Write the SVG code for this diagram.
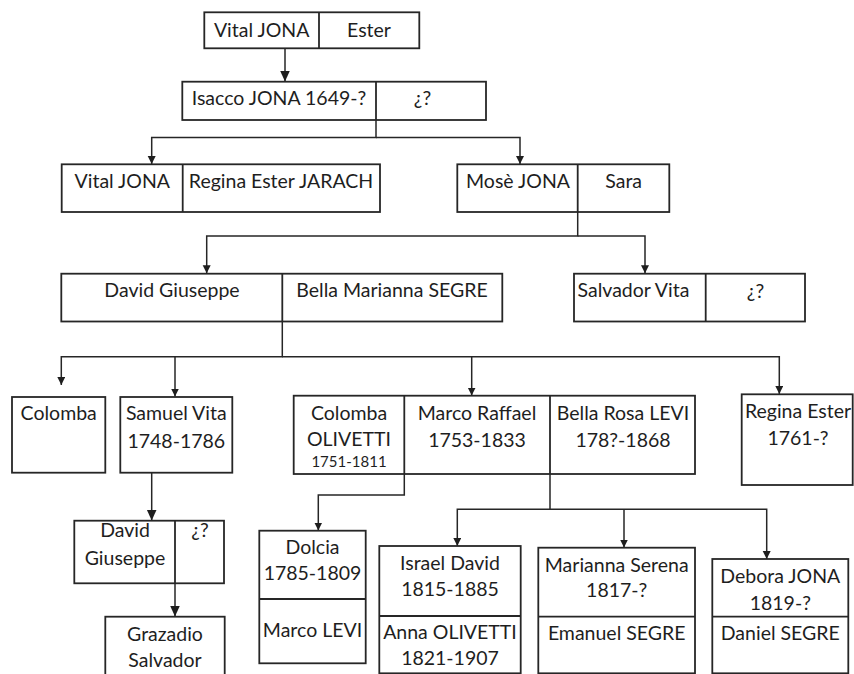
<svg xmlns="http://www.w3.org/2000/svg" width="854" height="674" viewBox="0 0 854 674">
  <style>
    .box { fill: #ffffff; stroke: #262626; stroke-width: 1.8; }
    .div { stroke: #262626; stroke-width: 1.8; fill: none; }
    .link { stroke: #262626; stroke-width: 1.5; fill: none; }
    text { font-family: Lato, "Liberation Sans", sans-serif; font-size: 19.5px; fill: #1e1e1e; text-anchor: middle; }
    .small { font-size: 15px; }
  </style>
  <defs>
    <marker id="arrow" markerUnits="userSpaceOnUse" markerWidth="12" markerHeight="14" refX="11" refY="5" orient="auto">
      <path d="M0,0 L11,5 L0,10 Z" fill="#1e1e1e"/>
    </marker>
    <marker id="arrowS" markerUnits="userSpaceOnUse" markerWidth="10" markerHeight="10" refX="8" refY="4" orient="auto">
      <path d="M0,0 L8,4 L0,8 Z" fill="#1e1e1e"/>
    </marker>
  </defs>

  <!-- connectors -->
  <g id="connectors">
    <path class="link" d="M285,48.3 V81.5" marker-end="url(#arrow)"/>
    <path class="link" d="M376,120 V137.5 H151.7 V164" marker-end="url(#arrowS)"/>
    <path class="link" d="M376,137.5 H520 V164" marker-end="url(#arrowS)"/>
    <path class="link" d="M577.7,212 V236 H206.7 V273.3" marker-end="url(#arrowS)"/>
    <path class="link" d="M577.7,236 H645 V273.3" marker-end="url(#arrowS)"/>
    <path class="link" d="M282.3,321.5 V356.7 H61.3 V385" marker-end="url(#arrowS)"/>
    <path class="link" d="M175,356.7 V396.5" marker-end="url(#arrowS)"/>
    <path class="link" d="M282.3,356.7 H779.3 V394" marker-end="url(#arrowS)"/>
    <path class="link" d="M471.7,356.7 V395.5" marker-end="url(#arrowS)"/>
    <path class="link" d="M151.7,472.7 V520.5" marker-end="url(#arrow)"/>
    <path class="link" d="M175,583.3 V616.5" marker-end="url(#arrow)"/>
    <path class="link" d="M404.3,474 V495 H318.3 V530.5" marker-end="url(#arrowS)"/>
    <path class="link" d="M550,474 V509.3 H457.3 V546" marker-end="url(#arrowS)"/>
    <path class="link" d="M550,509.3 H766.7 V559" marker-end="url(#arrowS)"/>
    <path class="link" d="M624,509.3 V547.5" marker-end="url(#arrowS)"/>
  </g>

  <!-- generation 1 -->
  <g id="vital-ester">
    <rect class="box" x="204.3" y="12.3" width="215" height="36"/>
    <line class="div" x1="319" y1="12.3" x2="319" y2="48.3"/>
    <text x="261.7" y="37">Vital JONA</text>
    <text x="369" y="37">Ester</text>
  </g>

  <!-- generation 2 -->
  <g id="isacco">
    <rect class="box" x="182.3" y="81.7" width="303.7" height="38.3"/>
    <line class="div" x1="376" y1="81.7" x2="376" y2="120"/>
    <text x="279" y="104.5">Isacco JONA 1649-?</text>
    <text x="422.5" y="104.5">¿?</text>
  </g>

  <!-- generation 3 -->
  <g id="vital-regina">
    <rect class="box" x="61.7" y="164.3" width="318.3" height="47.7"/>
    <line class="div" x1="182.7" y1="164.3" x2="182.7" y2="212"/>
    <text x="122.3" y="188.3">Vital JONA</text>
    <text x="281" y="188.3">Regina Ester JARACH</text>
  </g>
  <g id="mose-sara">
    <rect class="box" x="457.3" y="164.3" width="212" height="47.7"/>
    <line class="div" x1="577.7" y1="164.3" x2="577.7" y2="212"/>
    <text x="518" y="188">Mosè JONA</text>
    <text x="623.7" y="188">Sara</text>
  </g>

  <!-- generation 4 -->
  <g id="david-bella">
    <rect class="box" x="61.3" y="273.7" width="441" height="47.8"/>
    <line class="div" x1="282.3" y1="273.7" x2="282.3" y2="321.5"/>
    <text x="172" y="296.7">David Giuseppe</text>
    <text x="392" y="296.7">Bella Marianna SEGRE</text>
  </g>
  <g id="salvador">
    <rect class="box" x="574" y="273.7" width="231" height="47.8"/>
    <line class="div" x1="705.7" y1="273.7" x2="705.7" y2="321.5"/>
    <text x="633.5" y="297">Salvador Vita</text>
    <text x="755.5" y="297.5">¿?</text>
  </g>

  <!-- generation 5 -->
  <g id="colomba">
    <rect class="box" x="12" y="397" width="93.3" height="75.7"/>
    <text x="58.7" y="420">Colomba</text>
  </g>
  <g id="samuel">
    <rect class="box" x="120.3" y="397" width="112" height="75.7"/>
    <text x="176.3" y="420">Samuel Vita</text>
    <text x="176.3" y="448.3">1748-1786</text>
  </g>
  <g id="marco-raffael">
    <rect class="box" x="293.7" y="395.7" width="401.3" height="78.3"/>
    <line class="div" x1="404.3" y1="395.7" x2="404.3" y2="474"/>
    <line class="div" x1="550" y1="395.7" x2="550" y2="474"/>
    <text x="349" y="420">Colomba</text>
    <text x="349" y="446">OLIVETTI</text>
    <text class="small" x="349" y="466.7">1751-1811</text>
    <text x="477" y="420">Marco Raffael</text>
    <text x="477" y="447.3">1753-1833</text>
    <text x="623" y="420">Bella Rosa LEVI</text>
    <text x="623" y="447.3">178?-1868</text>
  </g>
  <g id="regina-ester">
    <rect class="box" x="741.7" y="394.3" width="111" height="90.7"/>
    <text x="798" y="418.3">Regina Ester</text>
    <text x="798" y="445">1761-?</text>
  </g>

  <!-- generation 6 -->
  <g id="david-giuseppe">
    <rect class="box" x="74.3" y="520.7" width="149.7" height="62.6"/>
    <line class="div" x1="175" y1="520.7" x2="175" y2="583.3"/>
    <text x="125" y="536.7">David</text>
    <text x="125" y="565">Giuseppe</text>
    <text x="200" y="536.7">¿?</text>
  </g>
  <g id="dolcia">
    <rect class="box" x="259.3" y="530.7" width="106.4" height="132.6"/>
    <line class="div" x1="259.3" y1="599" x2="365.7" y2="599"/>
    <text x="312.5" y="554.3">Dolcia</text>
    <text x="312.5" y="580">1785-1809</text>
    <text x="312.5" y="636.7">Marco LEVI</text>
  </g>
  <g id="israel">
    <rect class="box" x="379.3" y="546" width="141.4" height="127.3"/>
    <line class="div" x1="379.3" y1="616" x2="520.7" y2="616"/>
    <text x="450" y="570">Israel David</text>
    <text x="450" y="596">1815-1885</text>
    <text x="450" y="639.3">Anna OLIVETTI</text>
    <text x="450" y="665">1821-1907</text>
  </g>
  <g id="marianna">
    <rect class="box" x="538.3" y="547.7" width="156.7" height="125.6"/>
    <line class="div" x1="538.3" y1="616.7" x2="695" y2="616.7"/>
    <text x="616.7" y="571.7">Marianna Serena</text>
    <text x="616.7" y="597.3">1817-?</text>
    <text x="616.7" y="640">Emanuel SEGRE</text>
  </g>
  <g id="debora">
    <rect class="box" x="712.3" y="559" width="136" height="114.3"/>
    <line class="div" x1="712.3" y1="616.7" x2="848.3" y2="616.7"/>
    <text x="780.3" y="582.7">Debora JONA</text>
    <text x="780.3" y="610">1819-?</text>
    <text x="780.3" y="640">Daniel SEGRE</text>
  </g>

  <!-- generation 7 -->
  <g id="grazadio">
    <rect class="box" x="105.3" y="616.7" width="119.4" height="70"/>
    <text x="165" y="640.7">Grazadio</text>
    <text x="165" y="667.3">Salvador</text>
  </g>
</svg>
